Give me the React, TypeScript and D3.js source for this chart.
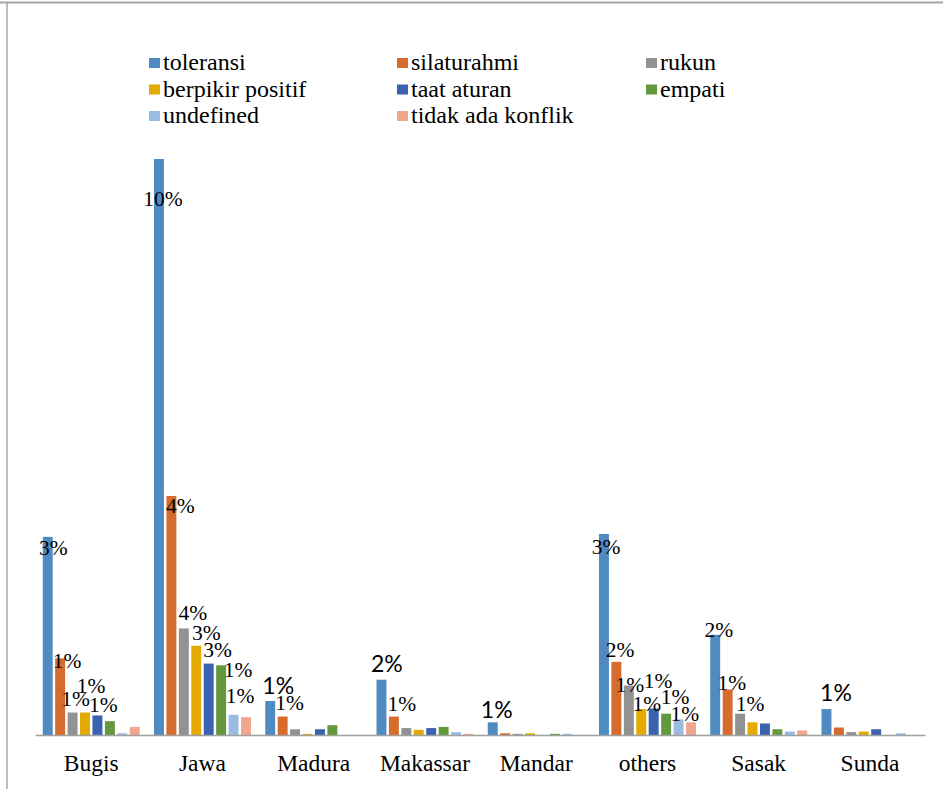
import React from "react";
import * as d3 from "d3";

const categories = ["Bugis", "Jawa", "Madura", "Makassar", "Mandar", "others", "Sasak", "Sunda"];
const seriesNames = ["toleransi", "silaturahmi", "rukun", "berpikir positif", "taat aturan", "empati", "undefined", "tidak ada konflik"];

// values per category, in series order (percent)
const bugis = [3.44, 1.33, 0.39, 0.39, 0.34, 0.24, 0.03, 0.14];
const jawa = [10.0, 4.15, 1.85, 1.55, 1.24, 1.21, 0.35, 0.31];
const madura = [0.59, 0.32, 0.1, 0.02, 0.1, 0.17, 0, 0];
const makassar = [0.96, 0.32, 0.12, 0.09, 0.12, 0.14, 0.05, 0.02];
const mandar = [0.22, 0.03, 0.02, 0.03, 0, 0.02, 0.02, 0];
const others = [3.49, 1.27, 0.86, 0.45, 0.46, 0.37, 0.27, 0.22];
const sasak = [1.74, 0.79, 0.37, 0.22, 0.2, 0.1, 0.06, 0.08];
const sunda = [0.45, 0.13, 0.05, 0.06, 0.1, 0, 0.03, 0];
const values = [bugis, jawa, madura, makassar, mandar, others, sasak, sunda];

// data label texts (null = no label); "s:" prefix = sans label
const labelTexts = [
  ["3%", "1%", "1%", "1%", "1%", null, null, null],
  ["10%", "4%", "4%", "3%", "3%", "1%", "1%", null],
  ["s:1%", "1%", null, null, null, null, null, null],
  ["s:2%", "1%", null, null, null, null, null, null],
  ["s:1%", null, null, null, null, null, null, null],
  ["3%", "2%", "1%", "1%", "1%", "1%", "1%", null],
  ["2%", "1%", "1%", null, null, null, null, null],
  ["s:1%", null, null, null, null, null, null, null],
];

// label offsets (layout): [dx, dy] from bar centre / bar top to label centre
const labelLayout = [
  [[5.5, 11], [7, 2], [3, -14], [6, -27], [6, -11]],
  [[4, 40], [9, 10], [9, -16], [10, -13], [9, -14], [17, 4], [6.5, -19]],
  [[8, -15], [7, -14]],
  [[5.4, -16], [8, -13]],
  [[4, -12]],
  [[2, 13], [3.6, -12], [1, -1], [5.7, -5], [4.3, -28], [9, -17], [6.4, -6]],
  [[3.7, -5], [4.3, -7], [10, -10]],
  [[9.5, -16]],
];

const colors = ["#4F8BC1", "#D56C2D", "#929292", "#E4AA00", "#3B62AF", "#63983D", "#9BBBE0", "#F0A68D"];

const W = 943;
const H = 789;
const serif = "Liberation Serif, Tinos, Times New Roman, DejaVu Serif, serif";
const sans = "Lato, Liberation Sans, sans-serif";

export default function App() {
  const x0 = d3
    .scaleBand<string>()
    .domain(categories)
    .range([35.6, 925.6])
    .paddingInner(0.106)
    .paddingOuter(0.053);
  const x1 = d3
    .scaleBand<string>()
    .domain(seriesNames)
    .range([0, x0.bandwidth()])
    .paddingInner(0.2)
    .paddingOuter(0.1);
  const y = d3.scaleLinear().domain([0, 10]).range([735, 159]);

  const legendCols = [149, 397, 646];
  const legendRows = [70, 96.5, 123];

  return (
    <svg
      width={W}
      height={H}
      style={{ position: "absolute", left: 0, top: 0, background: "#fff" }}
    >
      <rect x={0} y={0} width={W} height={H} fill="#fff" />
      {/* frame */}
      <line x1={0} x2={W} y1={2.5} y2={2.5} stroke="#A6A6A6" strokeWidth={2} />
      <line x1={7} x2={7} y1={2.5} y2={H} stroke="#A6A6A6" strokeWidth={1.5} />

      {/* legend */}
      {seriesNames.map((s, i) => {
        const cx = legendCols[i % 3];
        const by = legendRows[Math.floor(i / 3)];
        return (
          <g key={s}>
            <rect x={cx} y={by - 12} width={11} height={10} fill={colors[i]} />
            <text x={cx + 14} y={by} style={{ fontFamily: serif }} fontSize={24} fill="#000">
              {s}
            </text>
          </g>
        );
      })}

      {/* bars */}
      {categories.map((c, ci) => (
        <g key={c} transform={`translate(${x0(c)},0)`}>
          {seriesNames.map((s, si) => {
            const v = values[ci][si];
            if (v <= 0) return null;
            return (
              <rect
                key={s}
                x={x1(s)}
                y={y(v)}
                width={x1.bandwidth()}
                height={y(0) - y(v)}
                fill={colors[si]}
              />
            );
          })}
        </g>
      ))}

      {/* axis line */}
      <line x1={35.6} x2={925.6} y1={735.5} y2={735.5} stroke="#A0A0A0" strokeWidth={1.5} />

      {/* category labels */}
      {categories.map((c) => (
        <text
          key={c}
          x={(x0(c) as number) + x0.bandwidth() / 2}
          y={771}
          textAnchor="middle"
          style={{ fontFamily: serif }}
          fontSize={23.5}
          fill="#000"
        >
          {c}
        </text>
      ))}

      {/* data labels */}
      {categories.map((c, ci) =>
        labelTexts[ci].map((t, si) => {
          if (!t) return null;
          const isSans = t.startsWith("s:");
          const txt = isSans ? t.slice(2) : t;
          const [dx, dy] = labelLayout[ci][si];
          const bx = (x0(c) as number) + (x1(seriesNames[si]) as number) + x1.bandwidth() / 2;
          const cy = y(values[ci][si]) + dy;
          const fs = isSans ? 23 : 21.5;
          return (
            <text
              key={`${c}-${si}`}
              x={bx + dx}
              y={cy + fs * 0.34}
              textAnchor="middle"
              style={{ fontFamily: isSans ? sans : serif }}
              fontSize={fs}
              fill="#000"
            >
              {txt}
            </text>
          );
        })
      )}
    </svg>
  );
}
